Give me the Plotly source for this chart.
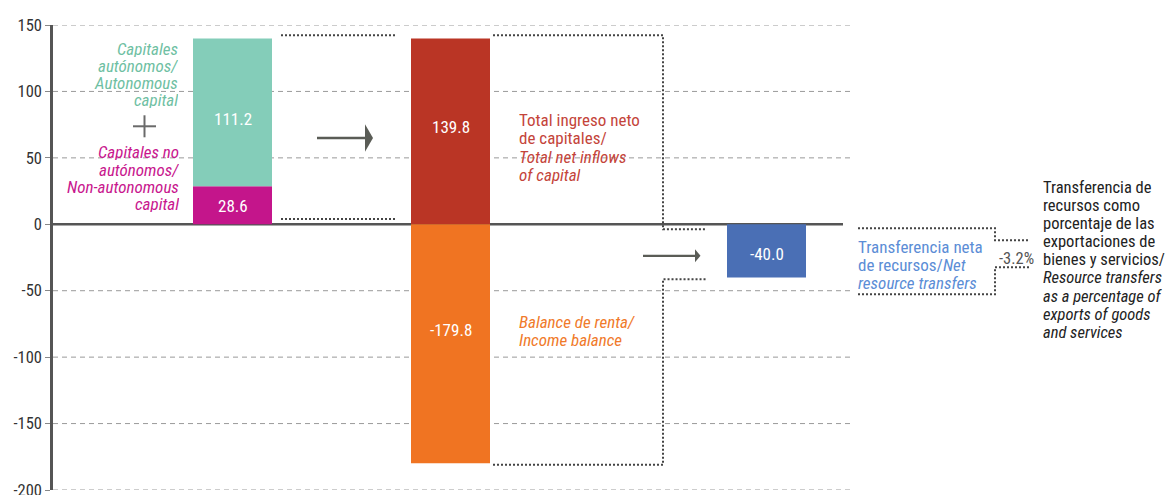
import plotly.graph_objects as go

# ---------------- data ----------------
series_names = ["Capitales no autónomos", "Capitales autónomos", "Total ingreso neto de capitales",
                "Balance de renta", "Transferencia neta de recursos"]
non_autonomous = 28.6
autonomous = 111.2
net_inflows = 139.8
income_balance = -179.8
net_transfers = -40.0
transfer_pct = "-3.2%"
y_ticks = [-200, -150, -100, -50, 0, 50, 100, 150]
y_tick_labels = [str(t) for t in y_ticks]

# ---------------- layout helpers ----------------
W, H = 1170, 495
ML, MT, MB = 53, 25, 5
Y0PX = 224.0
PPU = (H - MT - MB) / 350.0


def X(px):
    return px - ML


def Y(py):
    return (Y0PX - py) / PPU


FONT = "Liberation Sans Narrow, Arial Narrow, Roboto Condensed, Roboto, sans-serif"
C_TEAL, C_MAG, C_RED, C_ORA, C_BLUE = "#84CDB9", "#C4158B", "#BA3525", "#F07422", "#4A6FB5"
T_TEAL, T_MAG, T_RED, T_ORA, T_BLUE = "#6FBFA3", "#C8178E", "#C4443A", "#F07A2A", "#5B8DD6"

pos = [X(232.5), X(450.5), X(766.5)]
bw = 79

fig = go.Figure()
fig.add_bar(x=[pos[0]], y=[non_autonomous], base=[0], width=bw, marker_color=C_MAG,
            marker_line_width=0, name=series_names[0])
fig.add_bar(x=[pos[0]], y=[autonomous], base=[non_autonomous], width=bw, marker_color=C_TEAL,
            marker_line_width=0, name=series_names[1])
fig.add_bar(x=[pos[1]], y=[net_inflows], base=[0], width=bw, marker_color=C_RED,
            marker_line_width=0, name=series_names[2])
fig.add_bar(x=[pos[1]], y=[income_balance], base=[0], width=bw, marker_color=C_ORA,
            marker_line_width=0, name=series_names[3])
fig.add_bar(x=[pos[2]], y=[net_transfers], base=[0], width=bw, marker_color=C_BLUE,
            marker_line_width=0, name=series_names[4])

shapes = []
# gridlines
for t in y_ticks:
    if t == 0:
        continue
    shapes.append(dict(type="line", xref="x", yref="y", x0=0, x1=X(850), y0=t, y1=t,
                       line=dict(color="#9a9a9a", width=1, dash="5px,4px"), layer="below"))
# zero line
shapes.append(dict(type="line", xref="x", yref="y", x0=0, x1=X(843), y0=0, y1=0,
                   line=dict(color="#555555", width=2.5), layer="below"))

DOT = dict(color="#444444", width=2, dash="2px,2px")


def path(pts):
    s = "M {} {}".format(*pts[0])
    for p in pts[1:]:
        s += " L {} {}".format(*p)
    return s


top1 = non_autonomous + autonomous
# connector bar1 -> bar2
shapes.append(dict(type="line", xref="x", yref="y", x0=X(281), x1=X(397), y0=top1 + 2.5, y1=top1 + 2.5, line=DOT))
shapes.append(dict(type="line", xref="x", yref="y", x0=X(281), x1=X(397), y0=4, y1=4, line=DOT))
# connector bar2 -> bar3
shapes.append(dict(type="path", xref="x", yref="y",
                   path=path([(X(493), net_inflows + 2.5), (X(663), net_inflows + 2.5), (X(663), Y(229)), (X(706), Y(229))]),
                   line=DOT))
shapes.append(dict(type="path", xref="x", yref="y",
                   path=path([(X(493), income_balance - 1.2), (X(663), income_balance - 1.2), (X(663), Y(279)), (X(706), Y(279))]),
                   line=DOT))
# bracket right of bar3
shapes.append(dict(type="path", xref="x", yref="y",
                   path=path([(X(858), Y(228)), (X(995), Y(228)), (X(995), Y(240)), (X(1030), Y(240))]),
                   line=DOT))
shapes.append(dict(type="path", xref="x", yref="y",
                   path=path([(X(858), Y(294)), (X(995), Y(294)), (X(995), Y(267)), (X(1030), Y(267))]),
                   line=DOT))

# arrows
AC = "#5a5c56"
shapes.append(dict(type="line", xref="x", yref="y", x0=X(317), x1=X(366), y0=Y(137.7), y1=Y(137.7),
                   line=dict(color=AC, width=2.7)))
shapes.append(dict(type="path", xref="x", yref="y",
                   path=path([(X(365), Y(124)), (X(373), Y(137.7)), (X(365), Y(151.5))]) + " Z",
                   fillcolor=AC, line=dict(width=0)))
shapes.append(dict(type="line", xref="x", yref="y", x0=X(643), x1=X(696), y0=Y(255.5), y1=Y(255.5),
                   line=dict(color=AC, width=2.2)))
shapes.append(dict(type="path", xref="x", yref="y",
                   path=path([(X(695), Y(249)), (X(700.5), Y(255.5)), (X(695), Y(262))]) + " Z",
                   fillcolor=AC, line=dict(width=0)))
# plus sign
shapes.append(dict(type="line", xref="x", yref="y", x0=X(133), x1=X(156), y0=Y(126), y1=Y(126),
                   line=dict(color="#6a6a6a", width=2)))
shapes.append(dict(type="line", xref="x", yref="y", x0=X(144.5), x1=X(144.5), y0=Y(115), y1=Y(137),
                   line=dict(color="#6a6a6a", width=2)))

ann = []


def txt(text, px, py, color, anchor="left", size=17, h=None):
    a = dict(text=text, x=X(px), y=Y(py), xref="x", yref="y", xanchor=anchor, yanchor="middle",
             showarrow=False, borderpad=0, font=dict(family=FONT, size=size, color=color))
    if h is not None:
        a["height"] = h
        a["valign"] = "middle"
    ann.append(a)


# value labels
txt(f"{autonomous:.1f}", 232.5, 118.3, "white", "center")
txt(f"{non_autonomous:.1f}", 232.5, 206, "white", "center")
txt(f"{net_inflows:.1f}", 450.5, 126.7, "white", "center")
txt(f"{income_balance:.1f}", 450.5, 329.3, "white", "center")
txt(f"{net_transfers:.1f}", 766.5, 253.3, "white", "center")

for i, line in enumerate(["Capitales", "autónomos/", "Autonomous", "capital"]):
    txt(f"<i>{line}</i>", 179, 48.3 + 17.1 * i, T_TEAL, "right", h=17)
for i, line in enumerate(["Capitales no", "autónomos/", "Non-autonomous", "capital"]):
    txt(f"<i>{line}</i>", 180, 151.7 + 17.2 * i, T_MAG, "right", h=17)
for i, line in enumerate(["Total ingreso neto", "de capitales/", "<i>Total net inflows</i>", "<i>of capital</i>"]):
    txt(line, 518, 120 + 18.2 * i, T_RED, h=18)
for i, line in enumerate(["<i>Balance de renta/</i>", "<i>Income balance</i>"]):
    txt(line, 518, 322 + 18 * i, T_ORA, h=18)
for i, line in enumerate(["Transferencia neta", "de recursos/<i>Net</i>", "<i>resource transfers</i>"]):
    txt(line, 857, 247 + 17.7 * i, T_BLUE, h=17.5)
txt(transfer_pct, 1016, 258, "#555555", "center", 16.5)
right_lines = ["Transferencia de", "recursos como", "porcentaje de las", "exportaciones de",
               "bienes y servicios/", "<i>Resource transfers</i>", "<i>as a percentage of</i>",
               "<i>exports of goods</i>", "<i>and services</i>"]
for i, line in enumerate(right_lines):
    txt(line, 1042, 186.7 + 18.1 * i, "#222222", "left", 16.5, h=18)

fig.update_layout(
    width=W, height=H,
    margin=dict(l=ML, r=0, t=MT, b=MB, autoexpand=False),
    plot_bgcolor="white", paper_bgcolor="white",
    barmode="overlay", showlegend=False,
    shapes=shapes, annotations=ann,
    xaxis=dict(range=[0, W - ML], visible=False, showgrid=False, zeroline=False, fixedrange=True,
               automargin=False),
    yaxis=dict(range=[-200, 150], tickvals=y_ticks, ticktext=y_tick_labels, showgrid=False, zeroline=False,
               showline=True, linecolor="#555555", linewidth=2.5,
               ticks="outside", ticklen=5, tickcolor="#888888", tickwidth=1,
               ticklabeloverflow="allow", automargin=False,
               tickfont=dict(family=FONT, size=16.5, color="#333333"), fixedrange=True),
    font=dict(family=FONT),
)

fig.write_html("out.html", config={"displayModeBar": False},
               post_script="document.body.style.margin='0';document.body.style.overflow='hidden';")
